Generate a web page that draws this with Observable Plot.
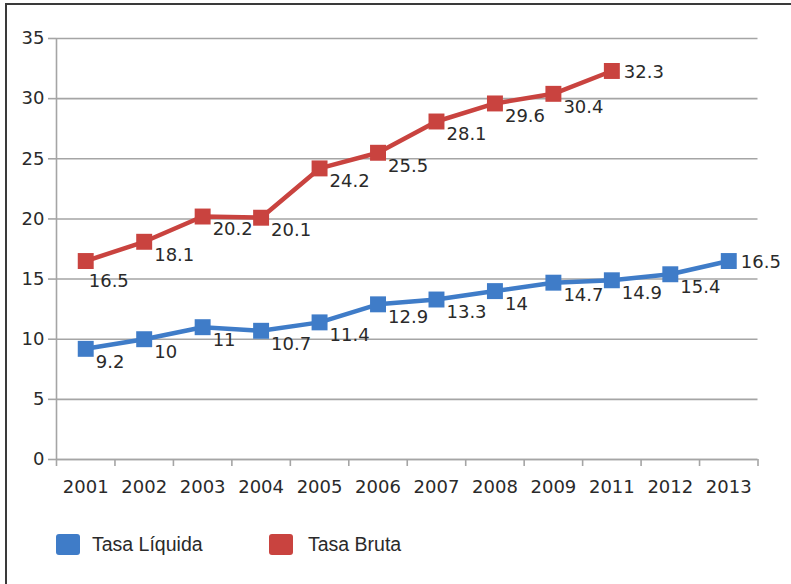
<!DOCTYPE html>
<html>
<head>
<meta charset="utf-8">
<script src="https://cdn.jsdelivr.net/npm/d3@7"></script>
<script src="https://cdn.jsdelivr.net/npm/@observablehq/plot@0.6"></script>
<style>
  html, body { margin: 0; padding: 0; background: #fff; }
  #wrap { position: relative; width: 791px; height: 584px; overflow: hidden; }
  #frame { position: absolute; left: 5px; top: 3px; width: 800px; height: 600px;
           border-top: 2px solid #3a3a3a; border-left: 2px solid #3a3a3a; pointer-events: none; }
  #chart { position: absolute; left: 0; top: 0; }
  #legend { position: absolute; left: 0; top: 533px; font-family: "Liberation Sans", Arial, sans-serif;
            font-size: 19.5px; color: #2a2a2a; }
  .item { position: absolute; top: 0; white-space: nowrap; }
  .sw { position: absolute; top: 1px; width: 24px; height: 21px; border-radius: 3px; }
  .lb { position: absolute; top: 0; line-height: 23px; }
</style>
</head>
<body>
<div id="wrap">
  <div id="chart"></div>
  <div id="legend"></div>
  <div id="frame"></div>
</div>
<script>
// ---- data ----
const years = ["2001", "2002", "2003", "2004", "2005", "2006", "2007", "2008", "2009", "2011", "2012", "2013"];
const tasaLiquida = [9.2, 10, 11, 10.7, 11.4, 12.9, 13.3, 14, 14.7, 14.9, 15.4, 16.5];
const tasaBruta = [16.5, 18.1, 20.2, 20.1, 24.2, 25.5, 28.1, 29.6, 30.4, 32.3]; // 2001–2011
const yTicks = [0, 5, 10, 15, 20, 25, 30, 35];
const seriesNames = ["Tasa Líquida", "Tasa Bruta"];

const blue = "#3f7cc8";
const red = "#c9433f";
const gridColor = "#a5a5a5";
const textColor = "#2a2a2a";

const liq = tasaLiquida.map((v, i) => ({ i, year: years[i], v }));
const bru = tasaBruta.map((v, i) => ({ i, year: years[i], v }));
const boundaries = d3.range(years.length + 1).map(k => k - 0.5);

const isLast = arr => (d, k) => k === arr.length - 1;

const labelMarks = (arr, color, opts = {}) => {
  const first = opts.firstBelow;
  return [
    Plot.text(arr.filter((d, k) => k !== arr.length - 1 && !(first && k === 0)),
      { x: "i", y: "v", text: d => String(d.v), textAnchor: "start", dx: 10, dy: 13, fill: textColor }),
    Plot.text(arr.filter(isLast(arr)),
      { x: "i", y: "v", text: d => String(d.v), textAnchor: "start", dx: 12, dy: 1, fill: textColor }),
    ...(first ? [Plot.text(arr.filter((d, k) => k === 0),
      { x: "i", y: "v", text: d => String(d.v), textAnchor: "start", dx: 3, dy: 20, fill: textColor })] : [])
  ];
};

const chart = Plot.plot({
  width: 791,
  height: 510,
  marginTop: 38,
  marginBottom: 51,
  marginLeft: 56,
  marginRight: 33.5,
  x: { domain: [-0.5, years.length - 0.5], axis: null },
  y: { domain: [0, 35], axis: null },
  style: { fontFamily: "DejaVu Sans, sans-serif", fontSize: "18px", color: textColor, background: "transparent" },
  marks: [
    Plot.gridY(yTicks, { stroke: gridColor, strokeOpacity: 1, strokeWidth: 1.6 }),
    Plot.axisY({ ticks: yTicks, tickSize: 8, tickPadding: 4, stroke: gridColor, strokeWidth: 1.6, fill: textColor, label: null, fontSize: 18 }),
    Plot.ruleX([-0.5], { stroke: gridColor, strokeWidth: 1.6 }),
    Plot.ruleY([0], { stroke: gridColor, strokeWidth: 1.6 }),
    Plot.axisX({ ticks: boundaries, tickSize: 7, tickFormat: () => "", stroke: gridColor, strokeWidth: 1.6, label: null }),
    Plot.axisX({ ticks: d3.range(years.length), tickSize: 0, tickPadding: 21, tickFormat: i => years[i], fill: textColor, label: null, fontSize: 18 }),
    Plot.line(liq, { x: "i", y: "v", stroke: blue, strokeWidth: 4.5 }),
    Plot.line(bru, { x: "i", y: "v", stroke: red, strokeWidth: 4.5 }),
    Plot.dot(liq, { x: "i", y: "v", symbol: "square", r: 9, fill: blue, stroke: "none" }),
    Plot.dot(bru, { x: "i", y: "v", symbol: "square", r: 9, fill: red, stroke: "none" }),
    ...labelMarks(liq, blue),
    ...labelMarks(bru, red, { firstBelow: true })
  ]
});
document.getElementById("chart").appendChild(chart);

// legend
const legend = document.getElementById("legend");
const legendItems = [
  { name: seriesNames[0], color: blue, x: 56 },
  { name: seriesNames[1], color: red, x: 269 }
];
legendItems.forEach(it => {
  const el = document.createElement("div");
  el.className = "item";
  el.style.left = it.x + "px";
  el.innerHTML = `<div class="sw" style="left:0;background:${it.color}"></div><div class="lb" style="left:${it.x === 56 ? 36 : 39}px">${it.name}</div>`;
  legend.appendChild(el);
});
</script>
</body>
</html>
